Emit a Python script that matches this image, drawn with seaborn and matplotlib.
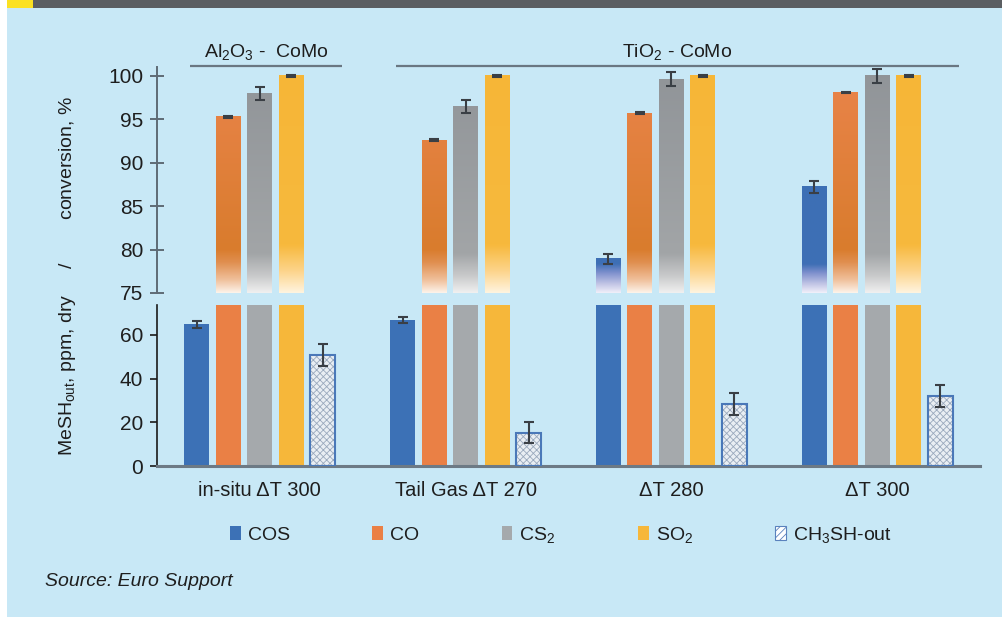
import numpy as np
import pandas as pd
import matplotlib
matplotlib.use("Agg")
import matplotlib.pyplot as plt
import matplotlib.transforms as mtransforms
from matplotlib.patches import Patch, Rectangle
from matplotlib.colors import to_rgb
import seaborn as sns

# ---------------- data ----------------
categories = ["in-situ ΔT 300", "Tail Gas ΔT 270", "ΔT 280", "ΔT 300"]
series = ["COS", "CO", "CS2", "SO2", "CH3SH-out"]
series_labels = ["COS", "CO", r"CS$_\mathregular{2}$", r"SO$_\mathregular{2}$",
                 r"CH$_\mathregular{3}$SH-out"]

cos_vals = [64.8, 67.0, 78.95, 87.25]
cos_err = [1.4, 1.4, 0.6, 0.7]
co_vals = [95.3, 92.6, 95.7, 98.1]
co_err = [0.1, 0.1, 0.1, 0.1]
cs2_vals = [98.0, 96.5, 99.65, 100.0]
cs2_err = [0.75, 0.75, 0.8, 0.8]
so2_vals = [100.0, 100.0, 100.0, 100.0]
so2_err = [0.08, 0.08, 0.08, 0.08]
mesh_vals = [51.0, 15.3, 28.5, 32.2]
mesh_err = [5.0, 5.0, 5.0, 5.0]

upper_ticks = [75, 80, 85, 90, 95, 100]
lower_ticks = [0, 20, 40, 60]

catalyst_groups = [(r"Al$_\mathregular{2}$O$_\mathregular{3}$ -  CoMo", 0, 0),
                   (r"TiO$_\mathregular{2}$ - CoMo", 1, 3)]

values = [cos_vals, co_vals, cs2_vals, so2_vals, mesh_vals]
errors = [cos_err, co_err, cs2_err, so2_err, mesh_err]

df = pd.DataFrame({
    "category": np.repeat([categories], len(series), axis=0).ravel(),
    "series": np.repeat(series, len(categories)),
    "value": np.concatenate(values),
})

# ---------------- style ----------------
palette = {"COS": "#3c71b6", "CO": "#ea8045", "CS2": "#a5a9ac",
           "SO2": "#f6b73a", "CH3SH-out": "#e4eaf0"}
# vertical colour stops (value, colour) for the faded upper bars
fade_stops = {
    "COS": [(75, "#f1f0fa"), (76.0, "#c3c6e6"), (77.3, "#7e90cd"), (78.3, "#3e6fb5"), (101, "#3b70b5")],
    "CO": [(75, "#fdf3ea"), (76.5, "#f0c09b"), (78.5, "#e08f50"), (80, "#d97c2d"), (101, "#ea844b")],
    "CS2": [(75, "#f0f0f0"), (77, "#c8c9ca"), (79.5, "#a2a5a7"), (101, "#909498")],
    "SO2": [(75, "#fff4df"), (77.5, "#fdd48b"), (80.5, "#f7b93d"), (101, "#f6b637")],
}

sns.set_style("white")
plt.rcParams["font.family"] = ["Liberation Sans", "DejaVu Sans"]
plt.rcParams["mathtext.default"] = "regular"
plt.rcParams["hatch.linewidth"] = 0.6
text_color = "#1e1e1e"

W, H = 1003, 618
fig = plt.figure(figsize=(W / 100, H / 100), dpi=100)
bg = "#c8e8f6"
fig.patch.set_facecolor(bg)

# page decoration: top band, yellow marker, white margins
fig.patches.append(Rectangle((0, 0), 7 / W, 1, transform=fig.transFigure,
                             facecolor="white", edgecolor="none", zorder=-5))
fig.patches.append(Rectangle((0, 0), 1, 1 / H, transform=fig.transFigure,
                             facecolor="white", edgecolor="none", zorder=-5))
fig.patches.append(Rectangle((33 / W, 1 - 8 / H), 1, 8 / H, transform=fig.transFigure,
                             facecolor="#5b5e62", edgecolor="none", zorder=-4))
fig.patches.append(Rectangle((7 / W, 1 - 8 / H), 26 / W, 8 / H, transform=fig.transFigure,
                             facecolor="#fbe122", edgecolor="none", zorder=-4))

ax_up = fig.add_axes([157 / W, 1 - 293 / H, 823 / W, (293 - 67.3) / H])
ax_lo = fig.add_axes([157 / W, 1 - 466 / H, 823 / W, (466 - 305) / H])

for ax in (ax_up, ax_lo):
    ax.set_facecolor("none")
    sns.barplot(data=df, x="category", y="value", hue="series", order=categories,
                hue_order=series, palette=palette, saturation=1, width=0.765, gap=0.21,
                errorbar=None, legend=False, ax=ax, linewidth=0)

ax_up.set_ylim(75, 101)
ax_lo.set_ylim(0, 73.7)

# faded bottoms on the conversion bars of the upper panel
for name, cont in zip(series, ax_up.containers):
    if name not in fade_stops:
        continue
    ys_stop = [s[0] for s in fade_stops[name]]
    cols = np.array([to_rgb(s[1]) for s in fade_stops[name]])
    for p in cont:
        top = p.get_height()
        if top <= 75:
            continue
        ys = np.linspace(75, top, 300)
        img = np.stack([np.interp(ys, ys_stop, cols[:, k]) for k in range(3)], axis=-1)
        ax_up.imshow(img[:, None, :], extent=(p.get_x(), p.get_x() + p.get_width(), 75, top),
                     origin="lower", aspect="auto", interpolation="bilinear", zorder=2)

# hatched CH3SH-out bars
for ax in (ax_up, ax_lo):
    for p in ax.containers[4]:
        p.set_facecolor("#e9eef3")
        p.set_hatch("xxxxx")
        p.set_edgecolor("#9aa9bd")
        p.set_linewidth(0)
        ax.add_patch(Rectangle((p.get_x(), p.get_y()), p.get_width(), p.get_height(),
                               fill=False, edgecolor="#4a78b8", linewidth=1.5, zorder=3))

# error bars
for ax in (ax_up, ax_lo):
    for cont, vals, errs in zip(ax.containers, values, errors):
        xs = [p.get_x() + p.get_width() / 2 for p in cont]
        ax.errorbar(xs, vals, yerr=errs, fmt="none", ecolor="#3a3f45", elinewidth=1.5,
                    capsize=3.6, capthick=1.5, zorder=6)

for ax in (ax_up, ax_lo):
    ax.set_xlim(-0.5, 3.5)
    ax.set_xlabel("")
    ax.set_ylabel("")
    ax.spines["top"].set_visible(False)
    ax.spines["right"].set_visible(False)

# upper panel axis
ax_up.spines["bottom"].set_visible(False)
ax_up.spines["left"].set_color("#5f6b75")
ax_up.spines["left"].set_linewidth(1.4)
ax_up.set_yticks(upper_ticks)
ax_up.tick_params(axis="y", direction="inout", length=10, width=1.4, color="#5f6b75",
                  labelsize=15, labelcolor=text_color, pad=5, left=True)
ax_up.tick_params(axis="x", bottom=False, labelbottom=False)

# lower panel axis
ax_lo.spines["left"].set_color("#1a1a1a")
ax_lo.spines["left"].set_linewidth(1.2)
ax_lo.spines["bottom"].set_color("#6d7a85")
ax_lo.spines["bottom"].set_linewidth(2.2)
ax_lo.set_yticks(lower_ticks)
ax_lo.tick_params(axis="y", direction="out", length=5, width=1.2, color="#1a1a1a",
                  labelsize=15, labelcolor=text_color, pad=5, left=True)
ax_lo.tick_params(axis="x", length=0, labelsize=14.5, labelcolor=text_color, pad=11)

# catalyst group headers
blend = mtransforms.blended_transform_factory(ax_up.transData, fig.transFigure)
for label, first, last in catalyst_groups:
    x0, x1 = first - 0.34, last + 0.40
    ax_up.plot([x0, x1], [1 - 66 / H] * 2, transform=blend, color="#6a7782",
               linewidth=1.6, clip_on=False, solid_capstyle="butt")
    ax_up.text((x0 + x1) / 2, 1 - 57 / H, label, transform=blend, ha="center",
               va="baseline", fontsize=14, color=text_color)

# combined axis title
fig.text(68 / W, 1 - 275.5 / H,
         r"MeSH$_\mathregular{out}$, ppm, dry     /        conversion, %",
         rotation=90, ha="center", va="center", fontsize=14, color=text_color)

# legend
handles = []
for name, lab in zip(series, series_labels):
    if name == "CH3SH-out":
        handles.append(Patch(facecolor="white", edgecolor="#5a82bd", hatch="/////",
                             linewidth=0.8, label=lab))
    else:
        handles.append(Patch(facecolor=palette[name], edgecolor="none", label=lab))
fig.legend(handles=handles, loc="center", bbox_to_anchor=(561 / W, 1 - 535 / H),
           ncol=5, frameon=False, fontsize=14, handlelength=0.55, handleheight=0.75,
           handletextpad=0.35, columnspacing=4.25, labelcolor=text_color)

fig.text(45 / W, 1 - 586.5 / H, "Source: Euro Support", fontsize=14, style="italic",
         color=text_color, ha="left", va="baseline")

fig.savefig("out.png", dpi=100, facecolor=fig.get_facecolor())
